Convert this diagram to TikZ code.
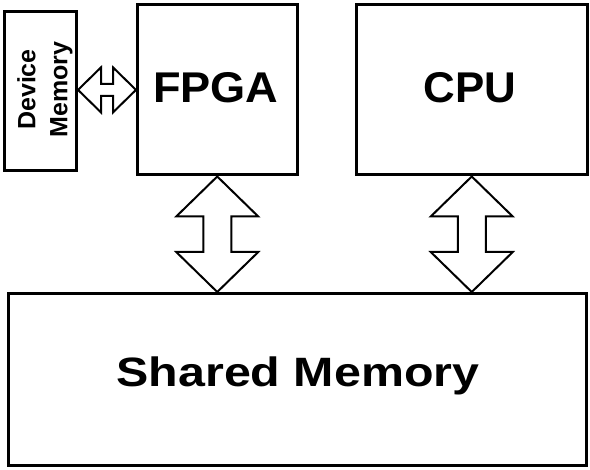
\documentclass[tikz,border=0pt]{standalone}
\usepackage{fontspec}
\setmainfont{Liberation Sans}
\usetikzlibrary{calc}
\tikzset{
  blk/.style={draw=black, line width=3pt, rectangle, inner sep=0pt},
  bus/.style={draw=black, fill=white, line width=2pt, line join=miter},
  bigtxt/.style={font=\fontsize{43}{46}\selectfont\bfseries, inner sep=0pt, anchor=base},
  midtxt/.style={font=\fontsize{41}{44}\selectfont\bfseries, inner sep=0pt, anchor=base},
  smalltxt/.style={font=\fontsize{25}{32}\selectfont\bfseries, inner sep=0pt, align=center, rotate=90}
}
\begin{document}
\begin{tikzpicture}[x=1pt, y=-1pt]
\useasboundingbox (0,0) rectangle (590,470);
\fill[white] (0,0) rectangle (590,470);
% blocks
\node[blk, minimum width=72pt, minimum height=159pt] (devmem) at (40.5,91) {};
\node[blk, minimum width=159.5pt, minimum height=170.2pt] (fpga) at (217.25,89.9) {};
\node[blk, minimum width=230.5pt, minimum height=170.2pt] (cpu) at (471.75,89.9) {};
\node[blk, minimum width=577.6pt, minimum height=172.2pt] (shared) at (297.5,379.6) {};
% texts
\node[smalltxt] (devmemt) at ($(devmem.center)+(4.3,-1.5)$) {Device\\Memory};
\node[bigtxt] (fpgat) at ($(fpga.center)+(-1.5,12.5)$) {\scalebox{1.05}[1]{FPGA}};
\node[bigtxt] (cput) at ($(cpu.center)+(-1.5,12.5)$) {\scalebox{1.02}[1]{CPU}};
\node[midtxt] (sharedt) at ($(shared.center)+(0.5,6.5)$) {\scalebox{1.18}[1]{Shared Memory}};
% vertical buses
\foreach \a in {fpga,cpu}{
\draw[bus] let \p1=(\a.south), \p2=(shared.north) in
  (\x1,\y1) -- (\x1+41pt,\y1-40pt) -- (\x1+14pt,\y1-40pt) -- (\x1+14pt,\y2+40pt)
  -- (\x1+41pt,\y2+40pt) -- (\x1,\y2) -- (\x1-41pt,\y2+40pt) -- (\x1-14pt,\y2+40pt)
  -- (\x1-14pt,\y1-40pt) -- (\x1-41pt,\y1-40pt) -- cycle;
}
% horizontal bus
\draw[bus] let \p1=(devmem.east), \p2=(fpga.west) in
  (\x1,\y2) -- (\x1+23pt,\y2+22.5pt) -- (\x1+23pt,\y2+6pt) -- (\x2-23pt,\y2+6pt)
  -- (\x2-23pt,\y2+22.5pt) -- (\x2,\y2) -- (\x2-23pt,\y2-22.5pt) -- (\x2-23pt,\y2-6pt)
  -- (\x1+23pt,\y2-6pt) -- (\x1+23pt,\y2-22.5pt) -- cycle;
\end{tikzpicture}
\end{document}
